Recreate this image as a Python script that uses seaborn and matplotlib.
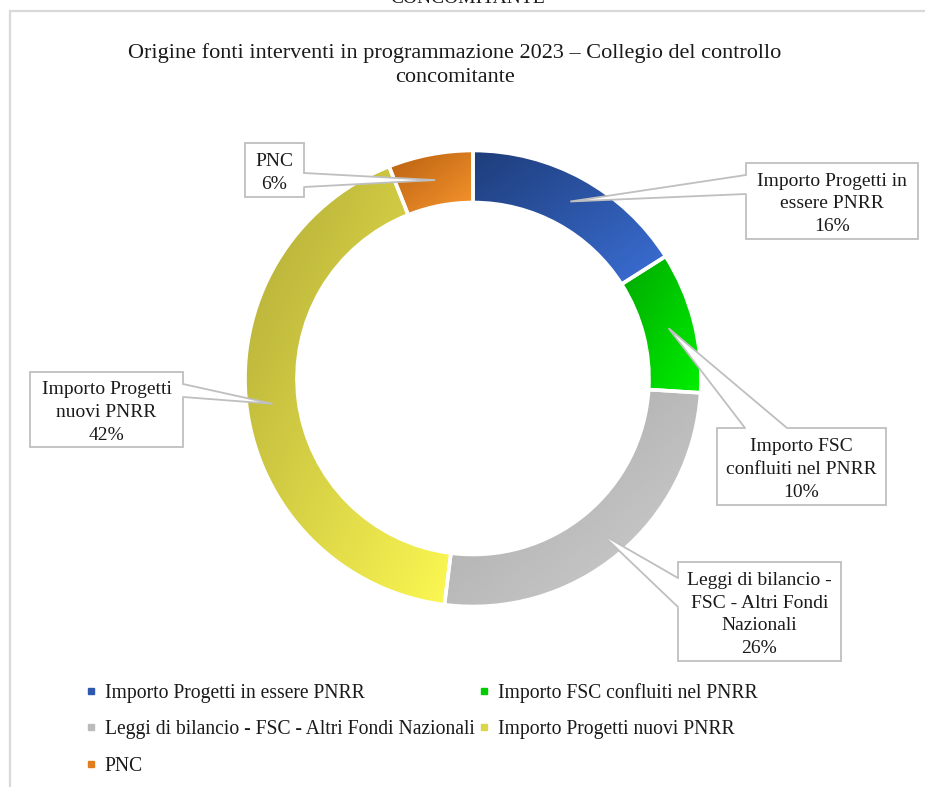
import numpy as np
import matplotlib
matplotlib.use("Agg")
import matplotlib.pyplot as plt
import seaborn as sns
from matplotlib.colors import LinearSegmentedColormap
from matplotlib.patches import Rectangle, Polygon
from matplotlib.lines import Line2D

# ---------------- data ----------------
categories = ["Importo Progetti in essere PNRR",
              "Importo FSC confluiti nel PNRR",
              "Leggi di bilancio - FSC - Altri Fondi Nazionali",
              "Importo Progetti nuovi PNRR",
              "PNC"]
shares = [16, 10, 26, 42, 6]
box_names = ["Importo Progetti in\nessere PNRR",
             "Importo FSC\nconfluiti nel PNRR",
             "Leggi di bilancio -\nFSC - Altri Fondi\nNazionali",
             "Importo Progetti\nnuovi PNRR",
             "PNC"]
title = "Origine fonti interventi in programmazione 2023 – Collegio del controllo\nconcomitante"

# ---------------- style ----------------
sns.set_theme(style="white")
plt.rcParams["font.family"] = ["Liberation Serif", "DejaVu Serif"]

mid_colors = ["#2D5AAE", "#00CC00", "#BBBBBB", "#D9D64A", "#E07E1E"]
grad_pairs = [("#1E3D7A", "#3B6FD6"),
              ("#00A800", "#00F000"),
              ("#A6A6A6", "#CFCFCF"),
              ("#B0A938", "#FCF852"),
              ("#B85F10", "#F8972E")]

W, H = 925, 787
fig = plt.figure(figsize=(W / 100, H / 100), dpi=100)
ax = fig.add_axes([0, 0, 1, 1])

def Y(y):
    return H - y

cx, cy, R, ring = 473, Y(378.5), 228, 52

wedges, _ = ax.pie(shares, colors=mid_colors, startangle=90, counterclock=False,
                   center=(cx, cy), radius=R,
                   wedgeprops=dict(width=ring, edgecolor="white", linewidth=2.6))

# gradient fills clipped to each wedge
n = 200
gx, gy = np.meshgrid(np.linspace(0, 1, n), np.linspace(0, 1, n))
tgrid = (gx + (1 - gy)) / 2.0
for w, (c0, c1) in zip(wedges, grad_pairs):
    ext = w.get_path().get_extents()
    cmap = LinearSegmentedColormap.from_list("g", [c0, c1])
    im = ax.imshow(tgrid, cmap=cmap, vmin=0, vmax=1, origin="lower",
                   extent=[ext.x0, ext.x1, ext.y0, ext.y1], zorder=1,
                   interpolation="bilinear")
    im.set_clip_path(w)
    w.set_facecolor("none")
    w.set_zorder(2)

# ---------------- callouts ----------------
boxes = [(746, 163, 918, 239), (717, 428, 886, 505), (678, 562, 841, 661),
         (30, 372, 183, 447), (245, 143, 304, 197)]
bases = [((746, 175), (746, 194)), ((745, 428), (787, 428)),
         ((678, 578), (678, 607)), ((183, 384), (183, 397)),
         ((304, 173), (304, 187))]
edge_c = "#BFBFBF"
r_mid = R - ring / 2
for w, name, v, (l, t, r, b), (p1, p2) in zip(wedges, box_names, shares, boxes, bases):
    ang = np.deg2rad((w.theta1 + w.theta2) / 2)
    apex = (cx + r_mid * np.cos(ang), cy + r_mid * np.sin(ang))
    ax.add_patch(Rectangle((l, Y(b)), r - l, b - t, facecolor="white",
                           edgecolor=edge_c, linewidth=1.3, zorder=5))
    q1 = (p1[0], Y(p1[1]))
    q2 = (p2[0], Y(p2[1]))
    ax.add_patch(Polygon([q1, apex, q2], closed=True, facecolor="white",
                         edgecolor="none", zorder=6))
    ax.plot([q1[0], q2[0]], [q1[1], q2[1]], color="white", lw=2.5, zorder=6,
            solid_capstyle="butt")
    ax.plot([q1[0], apex[0], q2[0]], [q1[1], apex[1], q2[1]], color=edge_c,
            lw=1.3, zorder=7, solid_joinstyle="miter")
    ax.text((l + r) / 2, Y((t + b) / 2 + 3), f"{name}\n{v}%", ha="center",
            va="center", fontsize=14, linespacing=1.45, zorder=8, color="#1a1a1a")

# ---------------- title & frame ----------------
ax.text(455, Y(65), title, ha="center", va="center", fontsize=16,
        linespacing=1.4, color="#1a1a1a")
ax.text(468, Y(3), "CONCOMITANTE", ha="center", va="baseline", fontsize=14,
        color="#1a1a1a")
frame_c = "#D9D9D9"
ax.plot([10, 10, W], [0, Y(11), Y(11)], color=frame_c, lw=1.6,
        solid_joinstyle="miter", zorder=0)

# ---------------- legend ----------------
order = [0, 2, 4, 1, 3]
handles = [Line2D([], [], marker="s", ls="", color=mid_colors[i], markersize=4.3)
           for i in order]
labels = [categories[i] for i in order]
ax.legend(handles, labels, ncol=2, loc="upper left",
          bbox_to_anchor=(85 / W, 1 - 683 / H), bbox_transform=fig.transFigure,
          frameon=False, fontsize=14.1, handlelength=0.6, handletextpad=0.4,
          labelspacing=0.89, columnspacing=0.2, borderpad=0, borderaxespad=0,
          labelcolor="#1a1a1a")

ax.set_xlim(0, W)
ax.set_ylim(0, H)
ax.set_aspect("equal")
ax.axis("off")
fig.savefig("out.png", dpi=100, facecolor="white")
